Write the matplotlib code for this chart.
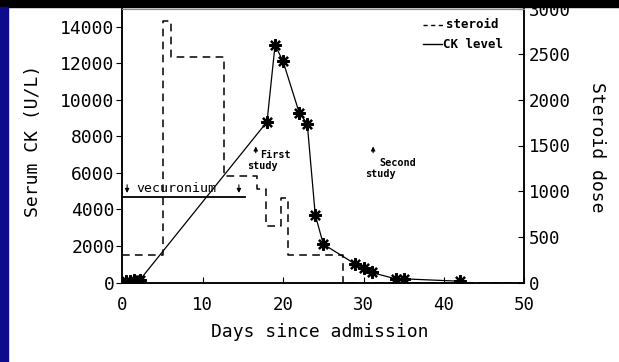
import matplotlib
matplotlib.use('Agg')
import matplotlib.pyplot as plt
from matplotlib.patches import Rectangle

# CK level (U/L) by day since admission
ck_day = [0.5, 1.0, 1.5, 2.2, 18, 19, 20, 22, 23, 24, 25, 29, 30, 31, 34, 35, 42]
ck_level = [60, 90, 110, 150, 8800, 13000, 12100, 9300, 8700, 3700, 2100,
            1000, 800, 550, 200, 200, 70]

# steroid dose, step changes (value held until next day)
steroid_day = [0, 5.1, 6.1, 12.6, 16.8, 17.9, 19.7, 20.65, 27.4, 50]
steroid_dose = [300, 2860, 2465, 1170, 1020, 620, 920, 300, 0, 0]

# vecuronium period and the two studies
vec_start, vec_end, vec_level = 0, 15.2, 4700
first_study_day = 16.6
second_study_day = 31.2

mono = 'DejaVu Sans Mono'
plt.rcParams['font.family'] = mono

fig = plt.figure(figsize=(6.19, 3.62), dpi=100)
fig.patch.set_facecolor('white')

# slide decoration: black band at top, blue strip at left
fig.patches.append(Rectangle((0, 1 - 7 / 362), 1, 7 / 362, transform=fig.transFigure,
                             color='black', zorder=0))
fig.patches.append(Rectangle((0, 0), 8 / 619, 1 - 7 / 362, transform=fig.transFigure,
                             color='#0c0c8c', zorder=0))

ax = fig.add_axes([122.3 / 619, 1 - 282.5 / 362, 402 / 619, 274 / 362])
ax2 = ax.twinx()

ax.plot(ck_day, ck_level, color='black', lw=0.9, marker=(8, 2, 0),
        markersize=9, mew=1.6, zorder=3)
ax2.plot(steroid_day, steroid_dose, color='black', lw=1.1, ls=(0, (5, 3.5)),
         drawstyle='steps-post')

ax.set_xlim(0, 50)
ax.set_ylim(0, 15000)
ax2.set_ylim(0, 3000)

ax.set_xticks(range(0, 51, 10))
ax.set_yticks(range(0, 14001, 2000))
ax2.set_yticks(range(0, 3001, 500))
ax.tick_params(axis='x', direction='in', length=4, pad=10, labelsize=12.5)
ax.tick_params(axis='y', direction='out', length=4, pad=1.5, labelsize=13)
ax2.tick_params(axis='y', direction='in', length=4, pad=3, labelsize=12.5)

for a in (ax, ax2):
    a.spines['top'].set_color('0.55')
    a.spines['top'].set_linewidth(0.8)
    for s in ('left', 'right', 'bottom'):
        a.spines[s].set_linewidth(1.1)

# vecuronium bar with arrows
ax.plot([vec_start, vec_end], [vec_level, vec_level], color='black', lw=1.3)
for d in (vec_start + 0.6, vec_end - 0.7):
    ax.annotate('', xy=(d, vec_level + 50), xytext=(d, vec_level + 800),
                arrowprops=dict(arrowstyle='-|>', color='black', lw=0.8,
                                mutation_scale=6))
ax.text(vec_start + 1.7, vec_level + 430, 'vecuronium', fontsize=9.5,
        va='center', ha='left')

# study markers
for d in (first_study_day, second_study_day):
    ax.annotate('', xy=(d, 7600), xytext=(d, 6950),
                arrowprops=dict(arrowstyle='-|>', color='black', lw=0.8,
                                mutation_scale=6))
ax.text(first_study_day + 0.5, 6980, 'First', fontsize=7.3, fontweight='bold',
        va='center', ha='left')
ax.text(first_study_day - 1.1, 6380, 'study', fontsize=7.3, fontweight='bold',
        va='center', ha='left')
ax.text(second_study_day + 0.8, 6520, 'Second', fontsize=7.3, fontweight='bold',
        va='center', ha='left')
ax.text(second_study_day - 1.0, 5930, 'study', fontsize=7.3, fontweight='bold',
        va='center', ha='left')

# legend drawn by hand
ax.plot([0.748, 0.803], [0.94, 0.94], transform=ax.transAxes, color='black',
        lw=1.0, ls=(0, (3, 2.5)))
ax.text(0.806, 0.94, 'steroid', transform=ax.transAxes, fontsize=9,
        fontweight='bold', va='center', ha='left')
ax.plot([0.748, 0.795], [0.87, 0.87], transform=ax.transAxes, color='black', lw=1.0)
ax.text(0.798, 0.87, 'CK level', transform=ax.transAxes, fontsize=9,
        fontweight='bold', va='center', ha='left')

fig.text(33 / 619, 1 - 141 / 362, 'Serum CK (U/L)', rotation=90, fontsize=13,
         ha='center', va='center')
fig.text(597 / 619, 1 - 147 / 362, 'Steroid dose', rotation=270, fontsize=13,
         ha='center', va='center')
fig.text(320 / 619, 1 - 332 / 362, 'Days since admission', fontsize=13,
         ha='center', va='center')

fig.savefig('out.png', dpi=100)
